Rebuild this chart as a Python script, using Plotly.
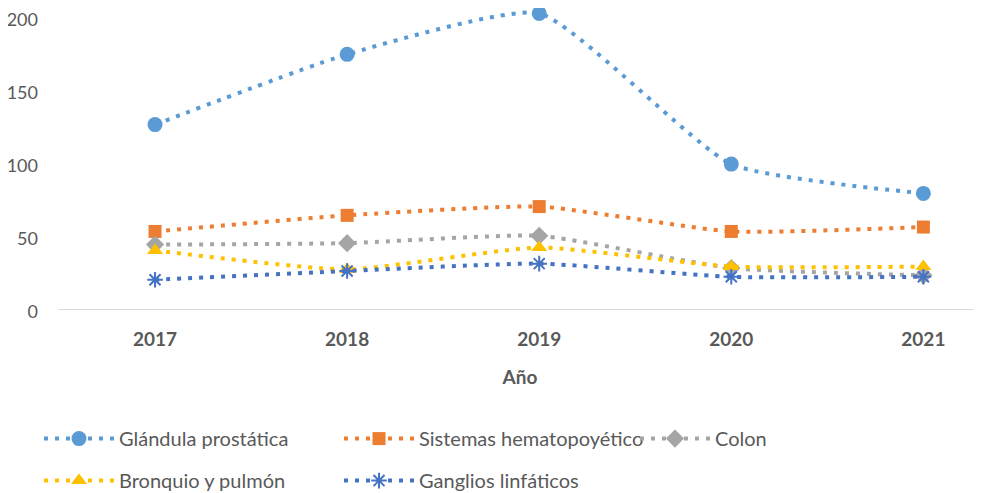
import plotly.graph_objects as go

years = ["2017", "2018", "2019", "2020", "2021"]
glandula = [126, 174, 202, 99, 79]
sistemas = [53, 64, 70, 53, 56]
colon = [44, 45, 50, 28, 23]
bronquio = [40, 27, 42, 29, 29]
ganglios = [20, 26, 31, 22, 22]

names = ["Glándula prostática", "Sistemas hematopoyético", "Colon",
         "Bronquio y pulmón", "Ganglios linfáticos"]
series = [glandula, sistemas, colon, bronquio, ganglios]
colors = ["#5B9BD5", "#ED7D31", "#A5A5A5", "#FFC000", "#4472C4"]
symbols = ["circle", "square", "diamond", "triangle-up", "asterisk-open"]
sizes = [15, 13, 14, 14, 13]
legends = ["legend", "legend2", "legend3", "legend4", "legend5"]

fig = go.Figure()
xs = list(range(len(years)))
for name, vals, c, s, sz, lg in zip(names, series, colors, symbols, sizes, legends):
    marker = dict(symbol=s, size=sz, color=c)
    if s == "asterisk-open":
        marker["line"] = dict(color=c, width=2)
    fig.add_trace(go.Scatter(
        x=xs, y=vals, name=name, mode="lines+markers", showlegend=True,
        line=dict(color=c, width=4, dash="4px,7px", shape="spline", smoothing=0.5),
        marker=marker, legend=lg, cliponaxis=False,
    ))

font_color = "#595959"
leg_common = dict(
    orientation="v", xanchor="left", yanchor="top", itemwidth=70,
    font=dict(size=20, color=font_color), bgcolor="rgba(0,0,0,0)",
)
row1, row2 = -0.367, -0.507
col1, col2, col3 = -0.0217, 0.3037, 0.6247
fig.update_layout(
    width=973, height=485, showlegend=True,
    margin=dict(l=51, r=0, t=1, b=184, autoexpand=False),
    paper_bgcolor="white", plot_bgcolor="white",
    font=dict(family="Lato, Liberation Sans, sans-serif", color=font_color, size=18),
    xaxis=dict(
        tickmode="array", tickvals=xs, ticktext=years,
        range=[-0.5, 4.3], showgrid=False, zeroline=False, automargin=False,
        showline=True, linecolor="#D9D9D9", linewidth=1,
        tickfont=dict(size=19, color=font_color, family="Lato, sans-serif", weight="bold"),
        ticklabelstandoff=13,
        title=dict(text="<b>Año</b>", font=dict(size=19, color=font_color), standoff=21),
    ),
    yaxis=dict(
        range=[0, 205], tickvals=[0, 50, 100, 150, 200],
        showgrid=False, zeroline=False, showline=False, automargin=False,
        tickfont=dict(size=18, color=font_color),
        ticklabelstandoff=20, ticklabeloverflow="allow", ticklabelshift=3,
    ),
    legend=dict(x=col1, y=row1, **leg_common),
    legend2=dict(x=col2, y=row1, **leg_common),
    legend3=dict(x=col3, y=row1, **leg_common),
    legend4=dict(x=col1, y=row2, **leg_common),
    legend5=dict(x=col2, y=row2, **leg_common),
)

fig.write_html("out.html")
